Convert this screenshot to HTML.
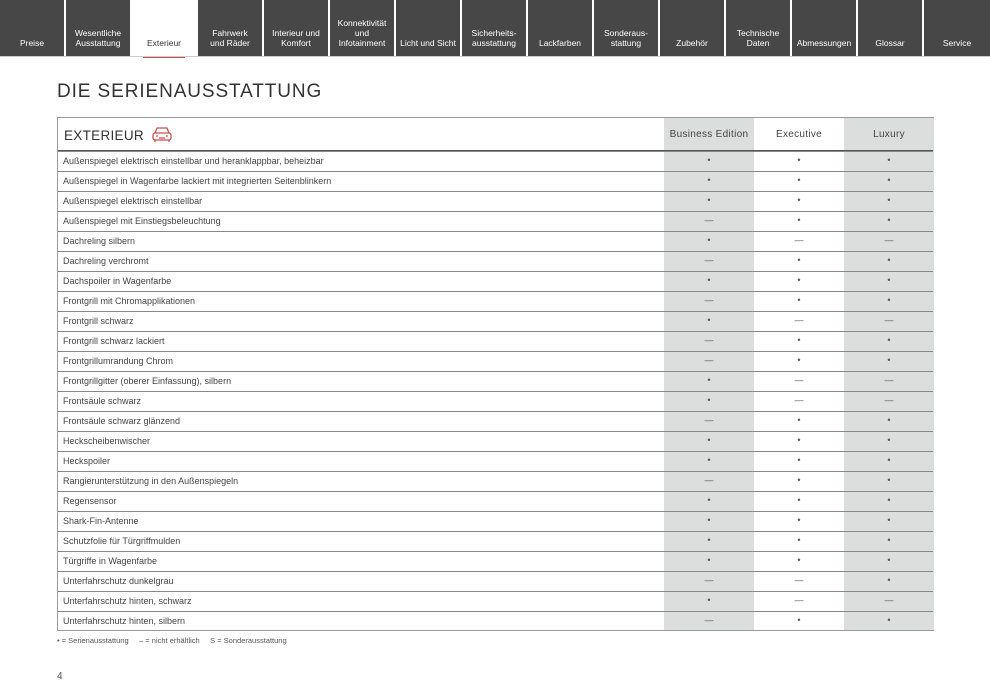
<!DOCTYPE html>
<html><head><meta charset="utf-8"><style>
*{margin:0;padding:0;box-sizing:border-box}
body{width:990px;height:700px;background:#fff;font-family:"Liberation Sans",sans-serif;position:relative;overflow:hidden;color:#333}
.tab{position:absolute;top:0;height:56px;width:64px;background:#474747;color:#fff;font-size:8.5px;text-align:center;display:flex;align-items:flex-end;justify-content:center;padding-bottom:8px;line-height:10px}
.tab.act{background:#fff;color:#333}
.tab.act:after{content:"";position:absolute;left:12px;right:12px;bottom:-2px;height:2px;background:#c8504f}
h1{position:absolute;left:57px;top:81px;font-size:19px;font-weight:normal;letter-spacing:0.9px;color:#333}
.tbl{position:absolute;left:57px;top:117px;width:877px;height:514px;border:1px solid #999}
.gc{position:absolute;top:0;bottom:0;background:#dcdddd}
.hd{position:absolute;top:0;height:33px;font-size:10px;letter-spacing:.3px;display:flex;align-items:center;justify-content:center;color:#444}
.row{position:absolute;left:0;width:875px;height:20px;border-top:1px solid #888;font-size:9px;color:#444}
.row span{position:absolute;left:5px;top:4px}
.row i{position:absolute;top:3px;width:90px;text-align:center;font-style:normal;font-size:9px;color:#555}
.b{left:606px}.e{left:696px}.l{left:786px}
</style></head><body>
<div class="tab" style="left:0">Preise</div>
<div class="tab" style="left:66px">Wesentliche<br>Ausstattung</div>
<div class="tab act" style="left:131px;width:66px">Exterieur</div>
<div class="tab" style="left:198px">Fahrwerk<br>und Räder</div>
<div class="tab" style="left:264px">Interieur und<br>Komfort</div>
<div class="tab" style="left:330px">Konnektivität<br>und<br>Infotainment</div>
<div class="tab" style="left:396px">Licht und Sicht</div>
<div class="tab" style="left:462px">Sicherheits-<br>ausstattung</div>
<div class="tab" style="left:528px">Lackfarben</div>
<div class="tab" style="left:594px">Sonderaus-<br>stattung</div>
<div class="tab" style="left:660px">Zubehör</div>
<div class="tab" style="left:726px">Technische<br>Daten</div>
<div class="tab" style="left:792px">Abmessungen</div>
<div class="tab" style="left:858px">Glossar</div>
<div class="tab" style="left:924px;width:66px">Service</div>
<div style="position:absolute;left:0;top:56px;width:990px;height:1px;background:#ccc"></div>
<h1>DIE SERIENAUSSTATTUNG</h1>
<div class="tbl">
<div class="gc" style="left:606px;width:90px"></div>
<div class="gc" style="left:786px;width:90px"></div>
<div style="position:absolute;left:6px;top:10px;font-size:13.5px;letter-spacing:.3px;color:#333">EXTERIEUR</div>
<svg style="position:absolute;left:93px;top:8px" width="22" height="18" viewBox="0 0 22 18" fill="none" stroke="#c8504f" stroke-width="1.3"><path d="M4 7 L6 2 H16 L18 7"/><rect x="2" y="7" width="18" height="7" rx="2"/><path d="M4 14v2M18 14v2M5 10h2M15 10h2M8 12h6"/></svg>
<div class="hd" style="left:606px;width:90px">Business Edition</div>
<div class="hd" style="left:696px;width:90px">Executive</div>
<div class="hd" style="left:786px;width:90px">Luxury</div>
<div style="position:absolute;left:0;top:32px;width:875px;height:1px;background:#555"></div>
<div class="row" style="top:33px"><span>Außenspiegel elektrisch einstellbar und heranklappbar, beheizbar</span><i class="b">•</i><i class="e">•</i><i class="l">•</i></div>
<div class="row" style="top:53px"><span>Außenspiegel in Wagenfarbe lackiert mit integrierten Seitenblinkern</span><i class="b">•</i><i class="e">•</i><i class="l">•</i></div>
<div class="row" style="top:73px"><span>Außenspiegel elektrisch einstellbar</span><i class="b">•</i><i class="e">•</i><i class="l">•</i></div>
<div class="row" style="top:93px"><span>Außenspiegel mit Einstiegsbeleuchtung</span><i class="b">—</i><i class="e">•</i><i class="l">•</i></div>
<div class="row" style="top:113px"><span>Dachreling silbern</span><i class="b">•</i><i class="e">—</i><i class="l">—</i></div>
<div class="row" style="top:133px"><span>Dachreling verchromt</span><i class="b">—</i><i class="e">•</i><i class="l">•</i></div>
<div class="row" style="top:153px"><span>Dachspoiler in Wagenfarbe</span><i class="b">•</i><i class="e">•</i><i class="l">•</i></div>
<div class="row" style="top:173px"><span>Frontgrill mit Chromapplikationen</span><i class="b">—</i><i class="e">•</i><i class="l">•</i></div>
<div class="row" style="top:193px"><span>Frontgrill schwarz</span><i class="b">•</i><i class="e">—</i><i class="l">—</i></div>
<div class="row" style="top:213px"><span>Frontgrill schwarz lackiert</span><i class="b">—</i><i class="e">•</i><i class="l">•</i></div>
<div class="row" style="top:233px"><span>Frontgrillumrandung Chrom</span><i class="b">—</i><i class="e">•</i><i class="l">•</i></div>
<div class="row" style="top:253px"><span>Frontgrillgitter (oberer Einfassung), silbern</span><i class="b">•</i><i class="e">—</i><i class="l">—</i></div>
<div class="row" style="top:273px"><span>Frontsäule schwarz</span><i class="b">•</i><i class="e">—</i><i class="l">—</i></div>
<div class="row" style="top:293px"><span>Frontsäule schwarz glänzend</span><i class="b">—</i><i class="e">•</i><i class="l">•</i></div>
<div class="row" style="top:313px"><span>Heckscheibenwischer</span><i class="b">•</i><i class="e">•</i><i class="l">•</i></div>
<div class="row" style="top:333px"><span>Heckspoiler</span><i class="b">•</i><i class="e">•</i><i class="l">•</i></div>
<div class="row" style="top:353px"><span>Rangierunterstützung in den Außenspiegeln</span><i class="b">—</i><i class="e">•</i><i class="l">•</i></div>
<div class="row" style="top:373px"><span>Regensensor</span><i class="b">•</i><i class="e">•</i><i class="l">•</i></div>
<div class="row" style="top:393px"><span>Shark-Fin-Antenne</span><i class="b">•</i><i class="e">•</i><i class="l">•</i></div>
<div class="row" style="top:413px"><span>Schutzfolie für Türgriffmulden</span><i class="b">•</i><i class="e">•</i><i class="l">•</i></div>
<div class="row" style="top:433px"><span>Türgriffe in Wagenfarbe</span><i class="b">•</i><i class="e">•</i><i class="l">•</i></div>
<div class="row" style="top:453px"><span>Unterfahrschutz dunkelgrau</span><i class="b">—</i><i class="e">—</i><i class="l">•</i></div>
<div class="row" style="top:473px"><span>Unterfahrschutz hinten, schwarz</span><i class="b">•</i><i class="e">—</i><i class="l">—</i></div>
<div class="row" style="top:493px"><span>Unterfahrschutz hinten, silbern</span><i class="b">—</i><i class="e">•</i><i class="l">•</i></div>
</div>
<div style="position:absolute;left:57px;top:636px;font-size:7.5px;color:#555">• = Serienausstattung &nbsp;&nbsp;&nbsp; – = nicht erhältlich &nbsp;&nbsp;&nbsp; S = Sonderausstattung</div>
<div style="position:absolute;left:57px;top:671px;font-size:10px;color:#555">4</div>
</body></html>
